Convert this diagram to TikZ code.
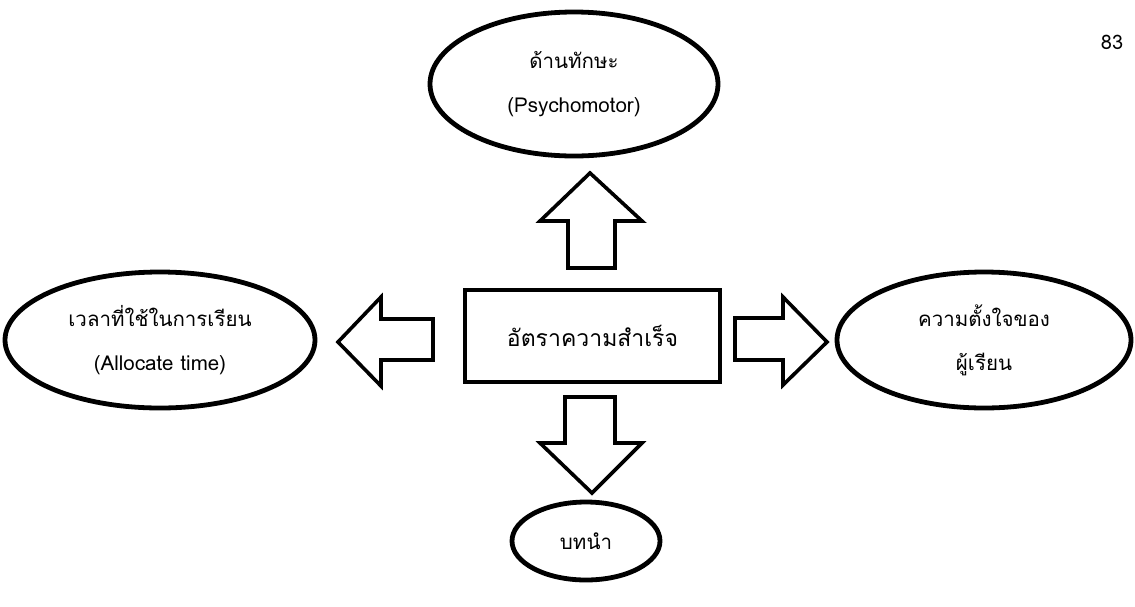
\documentclass[tikz,border=0pt]{standalone}
\usepackage{fontspec}
\newfontfamily\thaifont[Script=Thai]{Loma}
\usetikzlibrary{shapes.geometric}
\begin{document}
\begin{tikzpicture}[x=1pt,y=-1pt,
  oval/.style={ellipse,draw=black,line width=4.8pt,inner sep=0pt,align=center,
    font=\thaifont\fontsize{20.5}{44}\selectfont},
  boxnode/.style={rectangle,draw=black,line width=4.2pt,inner sep=0pt,
    font=\thaifont\fontsize{23}{26}\selectfont},
  blockarrow/.style={draw=black,line width=3.6pt,fill=white,line join=miter}]
\useasboundingbox (0,0) rectangle (1135,606);
% central box
\node[boxnode,minimum width=255pt,minimum height=92pt] (center) at (592.5,336) {อัตราความสำเร็จ};
% ellipses
\node[oval,minimum width=288pt,minimum height=144pt] (top) at (574,84)
  {ด้านทักษะ\\(Psychomotor)};
\node[oval,minimum width=310pt,minimum height=136pt] (left) at (160,340)
  {เวลาที่ใช้ในการเรียน\\(Allocate time)};
\node[oval,minimum width=294pt,minimum height=136pt] (right) at (984,340)
  {ความตั้งใจของ\\ผู้เรียน};
\node[oval,minimum width=148pt,minimum height=78pt] (bottom) at (586,541) {บทนำ};
% page number
\node[font=\thaifont\fontsize{20}{22}\selectfont,inner sep=0pt] (pnum) at (1112,42) {83};
% block arrows
\draw[blockarrow] (568,268) -- (568,221) -- (540,221) -- (590,173) -- (642,221) -- (615,221) -- (615,268) -- cycle;
\draw[blockarrow] (565,397) -- (565,443) -- (540,443) -- (592,493) -- (642,443) -- (615,443) -- (615,397) -- cycle;
\draw[blockarrow] (433,319) -- (381,319) -- (381,297) -- (338,342) -- (381,386) -- (381,360) -- (433,360) -- cycle;
\draw[blockarrow] (735,318) -- (783,318) -- (783,297) -- (827,342) -- (783,385) -- (783,360) -- (735,360) -- cycle;
\end{tikzpicture}
\end{document}
